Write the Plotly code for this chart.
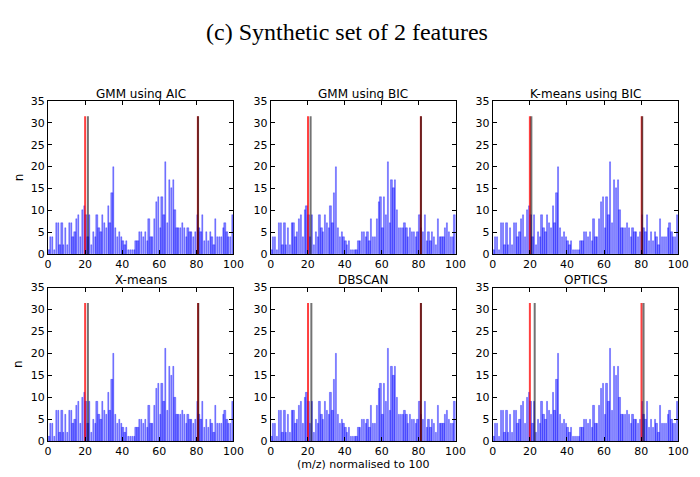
import numpy as np
import plotly.graph_objects as go

# ---- data ----
titles = ["GMM using AIC", "GMM using BIC", "K-means using BIC",
          "X-means", "DBSCAN", "OPTICS"]

# histogram counts, 100 bins over (m/z) normalised to 0..100
counts = [1, 4, 4, 1, 7, 7, 2, 7, 2, 6, 2, 7, 7, 4, 5, 8, 9, 4, 10, 11,
          9, 4, 9, 2, 5, 4, 9, 6, 5, 9, 7, 6, 11, 7, 14, 20, 6, 4, 5, 4,
          3, 2, 3, 1, 1, 1, 1, 3, 3, 5, 5, 4, 5, 3, 8, 4, 4, 8, 12, 13,
          6, 13, 9, 21, 7, 17, 15, 17, 10, 6, 6, 6, 7, 6, 4, 6, 5, 5, 4, 5,
          9, 6, 5, 9, 3, 5, 3, 5, 4, 2, 8, 4, 4, 4, 6, 7, 5, 4, 4, 9]

# true centres (red) and estimated centres (black) for each method
red_centres = [[20.0, 80.8], [20.2, 81.2], [20.0, 80.3],
               [20.0, 80.9], [20.2, 81.2], [20.0, 80.2]]
black_centres = [[21.5, 80.9], [21.6, 81.3], [20.8, 80.6],
                 [21.5, 81.0], [22.0, 81.3], [22.6, 81.3]]
line_height = 31.5

x_ticks = [0, 20, 40, 60, 80, 100]
y_ticks = [0, 5, 10, 15, 20, 25, 30, 35]

# ---- layout geometry (paper fractions) ----
W, H = 700, 477
col_px = [(45, 234.5), (272.5, 461.5), (499.5, 689)]
row_px = [(97.7, 255), (289.5, 447.3)]

bin_edges = np.linspace(0, 100, len(counts) + 1)
centres = (bin_edges[:-1] + bin_edges[1:]) / 2

fig = go.Figure()
font_ticks = dict(family="DejaVu Sans", size=11, color="black")

for k, title in enumerate(titles):
    r, c = divmod(k, 3)
    idx = "" if k == 0 else str(k + 1)
    xa, ya = "x" + idx, "y" + idx
    fig.add_trace(go.Bar(
        x=centres, y=counts, width=0.7,
        marker=dict(color="rgba(0,0,255,0.5)",
                    line=dict(color="rgba(0,0,255,0.6)", width=0.5)),
        xaxis=xa, yaxis=ya, showlegend=False, hoverinfo="skip"))
    for v in red_centres[k]:
        fig.add_trace(go.Scatter(
            x=[v, v], y=[0, line_height], mode="lines",
            line=dict(color="rgba(255,0,0,0.75)", width=2),
            xaxis=xa, yaxis=ya, showlegend=False, hoverinfo="skip"))
    for v in black_centres[k]:
        fig.add_trace(go.Scatter(
            x=[v, v], y=[0, line_height], mode="lines",
            line=dict(color="rgba(0,0,0,0.55)", width=2),
            xaxis=xa, yaxis=ya, showlegend=False, hoverinfo="skip"))

    x0, x1 = col_px[c]
    y0, y1 = row_px[r]
    xd = [x0 / W, x1 / W]
    yd = [1 - y1 / H, 1 - y0 / H]
    axcommon = dict(showgrid=False, zeroline=False, showline=True,
                    linecolor="black", linewidth=1, mirror="ticks",
                    ticks="inside", ticklen=4, tickcolor="black",
                    tickfont=font_ticks)
    fig.layout["xaxis" + idx] = dict(domain=xd, range=[0, 100], tickvals=x_ticks,
                                     anchor=ya, ticklabelstandoff=0, **axcommon)
    fig.layout["yaxis" + idx] = dict(domain=yd, range=[0, 35], tickvals=y_ticks,
                                     anchor=xa, **axcommon)
    fig.add_annotation(text=title, x=(xd[0] + xd[1]) / 2, y=yd[1],
                       xref="paper", yref="paper", xanchor="center", yanchor="bottom",
                       yshift=-0.5, showarrow=False, borderpad=0,
                       font=dict(family="DejaVu Sans", size=12, color="black"))

# y-axis labels
for r in range(2):
    y0, y1 = row_px[r]
    fig.add_annotation(text="n", x=15 / W, y=1 - (y0 + y1) / 2 / H,
                       xref="paper", yref="paper", showarrow=False,
                       xanchor="center", yanchor="middle", textangle=-90,
                       font=dict(family="DejaVu Sans", size=12, color="black"))

# x-axis label
fig.add_annotation(text="(m/z) normalised to 100", x=(col_px[1][0] + col_px[1][1]) / 2 / W,
                   y=1 - 471 / H, xref="paper", yref="paper", showarrow=False,
                   xanchor="center", yanchor="middle",
                   font=dict(family="DejaVu Sans", size=11, color="black"))

# main title
fig.add_annotation(text="(c) Synthetic set of 2 features", x=0.5, y=1 - 27 / H,
                   xref="paper", yref="paper", showarrow=False,
                   xanchor="center", yanchor="middle",
                   font=dict(family="Liberation Serif", size=24, color="black"))

fig.update_layout(width=W, height=H, margin=dict(l=0, r=0, t=0, b=0),
                  paper_bgcolor="white", plot_bgcolor="white", bargap=0)

fig.write_html("out.html")
